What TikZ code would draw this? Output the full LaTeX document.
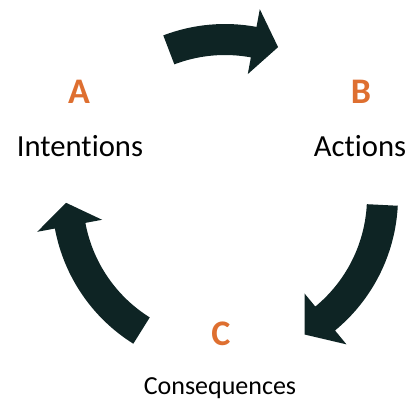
\documentclass[tikz,border=0pt]{standalone}
\usepackage{fontspec}
\setmainfont[Ligatures=NoCommon]{Carlito}

\definecolor{arrowdark}{RGB}{14,36,36}
\definecolor{letterorange}{RGB}{222,111,48}

\tikzset{every picture/.style={line width=0.75pt}}
\tikzset{
  cyclearrow/.style={fill=arrowdark, draw=none},
  steplabel/.style={text=letterorange, font=\bfseries\fontsize{27}{30}\selectfont},
  stepname/.style={text=black, font=\fontsize{23}{27}\selectfont}
}

% curved arrow around the centre: tail angle, head base angle, tip angle
\newcommand{\cyclearrow}[3]{%
  \fill[cyclearrow] (#1:173) arc[start angle=#1, end angle=#2, radius=173]
    -- (#2:191) -- (#3:159) -- (#2:125) -- (#2:142)
    arc[start angle=#2, end angle=#1, radius=142] -- cycle ;
}

\begin{document}
\begin{tikzpicture}[x=0.75pt,y=0.75pt,yscale=-1,xscale=1]
\useasboundingbox (0,0) rectangle (408,400);

%Curved arrows
\begin{scope}[shift={(225,197)},yscale=-1]
\cyclearrow{110.9}{79.5}{70.5}
\cyclearrow{-2.9}{-50.5}{-59.9}
\cyclearrow{238}{190.5}{182.1}
\end{scope}

% Text Node
\node [steplabel] (labA) at (79,92) {A};
% Text Node
\node [steplabel] (labB) at (361,92) {B};
% Text Node
\node [steplabel] (labC) at (221,334) {C};
% Text Node
\node [stepname] (nameA) at (80,146) {Intentions};
% Text Node
\node [stepname] (nameB) at (360,146) {Actions};
% Text Node
\node [stepname, font=\fontsize{19.5}{22}\selectfont] (nameC) at (220,388) {Consequences};

\end{tikzpicture}
\end{document}
